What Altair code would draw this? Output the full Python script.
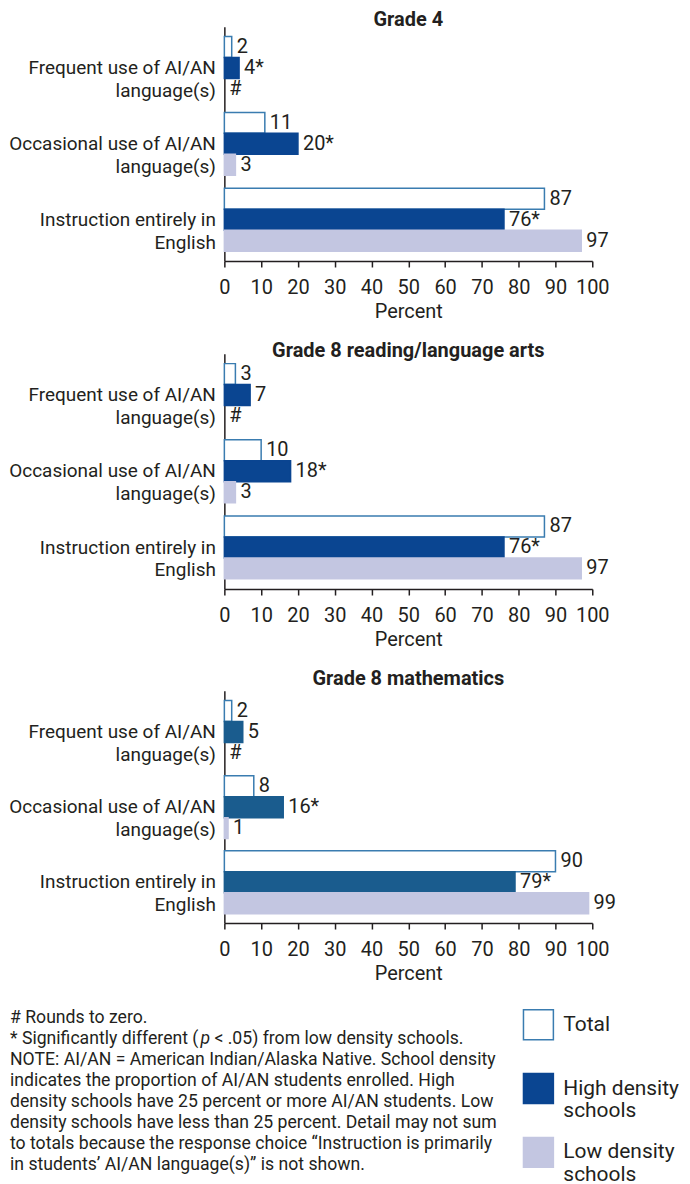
import altair as alt
import pandas as pd

FONT = "Roboto"
INK = "#231f20"

categories = [
    "Frequent use of AI/AN|language(s)",
    "Occasional use of AI/AN|language(s)",
    "Instruction entirely in|English",
]
groups = ["Total", "High density schools", "Low density schools"]
panel_titles = ["Grade 4", "Grade 8 reading/language arts", "Grade 8 mathematics"]

# Grade 4
g4_total = [2, 11, 87]
g4_high = [4, 20, 76]
g4_low = [0, 3, 97]
g4_total_lbl = ["2", "11", "87"]
g4_high_lbl = ["4*", "20*", "76*"]
g4_low_lbl = ["#", "3", "97"]

# Grade 8 reading/language arts
g8r_total = [3, 10, 87]
g8r_high = [7, 18, 76]
g8r_low = [0, 3, 97]
g8r_total_lbl = ["3", "10", "87"]
g8r_high_lbl = ["7", "18*", "76*"]
g8r_low_lbl = ["#", "3", "97"]

# Grade 8 mathematics
g8m_total = [2, 8, 90]
g8m_high = [5, 16, 79]
g8m_low = [0, 1, 99]
g8m_total_lbl = ["2", "8", "90"]
g8m_high_lbl = ["5", "16*", "79*"]
g8m_low_lbl = ["#", "1", "99"]

x_ticks = list(range(0, 101, 10))

TOTAL_STROKE = "#3a7cb0"
HIGH_COLOR = "#0a4591"
HIGH_COLOR_MATH = "#1a5c8e"
LOW_COLOR = "#c3c6e1"

footnote_lines = [
    "# Rounds to zero.",
    "NOTE: AI/AN = American Indian/Alaska Native. School density",
    "indicates the proportion of AI/AN students enrolled. High",
    "density schools have 25 percent or more AI/AN students. Low",
    "density schools have less than 25 percent. Detail may not sum",
    "to totals because the response choice \u201cInstruction is primarily",
    "in students\u2019 AI/AN language(s)\u201d is not shown.",
]
footnote_rows = [0, 2, 3, 4, 5, 6, 7]
sig_parts = ["* Significantly different (", "p", "< .05) from low density schools."]
legend_labels = ["Total", "High density\nschools", "Low density\nschools"]


def panel(title, total, high, low, tl, hl, ll, high_color, title_offset, height):
    rows = []
    for i, c in enumerate(categories):
        for g, vals, lbls in ((groups[0], total, tl), (groups[1], high, hl), (groups[2], low, ll)):
            rows.append({"cat": c, "group": g, "value": vals[i], "label": lbls[i]})
    df = pd.DataFrame(rows)

    y = alt.Y(
        "cat:N",
        sort=categories,
        scale=alt.Scale(paddingInner=0.17, paddingOuter=0.13),
        axis=alt.Axis(
            title=None,
            labelExpr="split(datum.label, '|')",
            labelFont=FONT,
            labelFontSize=19,
            labelLineHeight=23,
            labelColor=INK,
            labelPadding=9,
            labelLimit=400,
            ticks=False,
            domainColor=INK,
            domainWidth=1.5,
        ),
    )
    yoff = alt.YOffset("group:N", sort=groups, scale=alt.Scale(domain=groups, paddingInner=0, paddingOuter=0))
    x = alt.X(
        "value:Q",
        scale=alt.Scale(domain=[0, 100], nice=False),
        axis=alt.Axis(
            values=x_ticks,
            grid=False,
            title="Percent",
            titleFont=FONT,
            titleFontSize=20,
            titleFontWeight="normal",
            titleColor=INK,
            titlePadding=4,
            labelFont=FONT,
            labelFontSize=20,
            labelColor=INK,
            labelFlush=False,
            labelOverlap=False,
            labelPadding=11,
            tickSize=6,
            tickColor=INK,
            tickWidth=1.5,
            domainColor=INK,
            domainWidth=1.5,
        ),
    )
    bars = (
        alt.Chart(df)
        .transform_filter("datum.value > 0")
        .mark_bar(strokeWidth=1.5)
        .encode(
            x=x,
            y=y,
            yOffset=yoff,
            fill=alt.Fill("group:N", scale=alt.Scale(domain=groups, range=["#ffffff", high_color, LOW_COLOR]), legend=None),
            stroke=alt.Stroke("group:N", scale=alt.Scale(domain=groups, range=[TOTAL_STROKE, high_color, LOW_COLOR]), legend=None),
        )
    )
    text = (
        alt.Chart(df)
        .mark_text(align="left", baseline="middle", dx=5, font=FONT, fontSize=20, color=INK)
        .encode(x=x, y=y, yOffset=yoff, text="label:N")
    )
    return alt.layer(bars, text).properties(
        width=369,
        height=height,
        title=alt.TitleParams(title, font=FONT, fontSize=20, fontWeight="bold", color=INK, offset=title_offset, anchor="middle"),
    ).resolve_scale(fill="independent", stroke="independent")


p1 = panel(panel_titles[0], g4_total, g4_high, g4_low, g4_total_lbl, g4_high_lbl, g4_low_lbl, HIGH_COLOR, -3, 235)
p2 = panel(panel_titles[1], g8r_total, g8r_high, g8r_low, g8r_total_lbl, g8r_high_lbl, g8r_low_lbl, HIGH_COLOR, -7, 236)
p3 = panel(panel_titles[2], g8m_total, g8m_high, g8m_low, g8m_total_lbl, g8m_high_lbl, g8m_low_lbl, HIGH_COLOR_MATH, 2, 233)

# Footnotes and legend (positions relative to the plot origin of the column)
FOOT_SIZE = 17.7
foot_df = pd.DataFrame({"row": footnote_rows, "text": footnote_lines})
sig_df = pd.DataFrame({"row": [1]})
yfoot = alt.Scale(domain=[0, 7], range=[15, 163])

frame = alt.Chart(pd.DataFrame({"k": [0]})).mark_rect(fill="white", strokeWidth=0).encode(
    x=alt.value(-215), x2=alt.value(459), y=alt.value(0), y2=alt.value(172)
)
foot = alt.Chart(foot_df).mark_text(align="left", baseline="middle", font=FONT, fontSize=FOOT_SIZE, color=INK).encode(
    x=alt.value(-215), y=alt.Y("row:Q", scale=yfoot, axis=None), text="text:N"
)
sig1 = alt.Chart(sig_df).mark_text(align="left", baseline="middle", font=FONT, fontSize=FOOT_SIZE, color=INK).encode(
    x=alt.value(-215), y=alt.Y("row:Q", scale=yfoot, axis=None), text=alt.value(sig_parts[0])
)
sig2 = alt.Chart(sig_df).mark_text(align="left", baseline="middle", font=FONT, fontSize=FOOT_SIZE, fontStyle="italic", color=INK).encode(
    x=alt.value(-24), y=alt.Y("row:Q", scale=yfoot, axis=None), text=alt.value(sig_parts[1])
)
sig3 = alt.Chart(sig_df).mark_text(align="left", baseline="middle", font=FONT, fontSize=FOOT_SIZE, color=INK).encode(
    x=alt.value(-10), y=alt.Y("row:Q", scale=yfoot, axis=None), text=alt.value(sig_parts[2])
)

leg_df = pd.DataFrame({"group": groups, "idx": [0, 1, 2], "label": legend_labels})
yleg = alt.Scale(domain=[0, 2], range=[22, 150])
leg_boxes = alt.Chart(leg_df).mark_square(size=900, filled=True, strokeWidth=1.5, opacity=1).encode(
    x=alt.value(315),
    y=alt.Y("idx:Q", scale=yleg, axis=None),
    fill=alt.Fill("group:N", scale=alt.Scale(domain=groups, range=["#ffffff", HIGH_COLOR, LOW_COLOR]), legend=None),
    stroke=alt.Stroke("group:N", scale=alt.Scale(domain=groups, range=[TOTAL_STROKE, HIGH_COLOR, LOW_COLOR]), legend=None),
)
leg_text = alt.Chart(leg_df).mark_text(align="left", baseline="middle", font=FONT, fontSize=21, lineBreak="\n", lineHeight=23, color=INK).encode(
    x=alt.value(340), y=alt.Y("idx:Q", scale=yleg, axis=None), text="label:N"
)

bottom = alt.layer(frame, foot, sig1, sig2, sig3, leg_boxes, leg_text).properties(width=369, height=160).resolve_scale(
    y="independent", fill="independent", stroke="independent"
)

chart = (
    alt.vconcat(p1, p2, p3, bottom, spacing=19, padding=0)
    .resolve_scale(fill="independent", stroke="independent")
    .configure_view(strokeWidth=0)
    .configure_axis(grid=False)
)

chart.save("out.html", embed_options={"renderer": "svg", "actions": False})
